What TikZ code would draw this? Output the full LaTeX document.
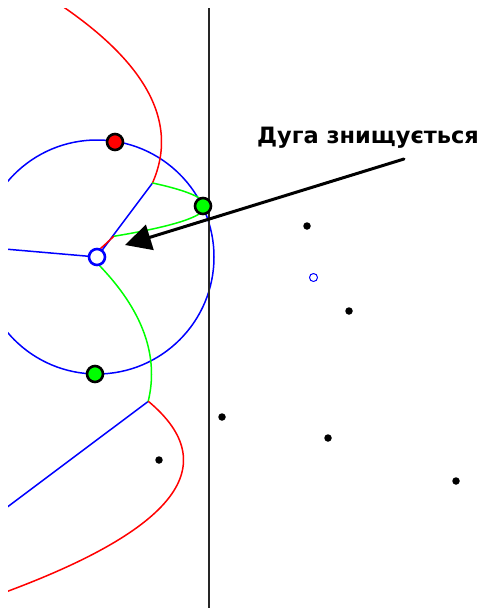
\documentclass[tikz,border=0pt]{standalone}
\usepackage{fontspec}
\newfontfamily\captionfont{DejaVu Sans}
\usetikzlibrary{arrows.meta}

\begin{document}
\begin{tikzpicture}[x=1pt, y=-1pt, line cap=round, line join=round,
    edgeline/.style={blue, line width=1.5pt},
    arcred/.style={red, line width=1.5pt},
    arcgreen/.style={green, line width=1.5pt},
    sweepline/.style={black!85, line width=2pt},
    bigsite/.style={circle, draw=black, line width=2.6pt, minimum size=16pt, inner sep=0pt},
    eventpoint/.style={circle, draw=blue, fill=white, line width=2.6pt, minimum size=16pt, inner sep=0pt},
    smallsite/.style={circle, fill=black, minimum size=7.5pt, inner sep=0pt},
    smallevent/.style={circle, draw=blue, line width=1pt, minimum size=8pt, inner sep=0pt},
    pointer/.style={black, line width=3pt, -{Triangle[length=26pt, width=26pt]}}]
    \useasboundingbox (0,0) rectangle (485,608);

    % Точки подій та вершини діаграми
    \coordinate (centre) at (97,257);
    \coordinate (topjoin) at (152.5,183);
    \coordinate (lowjoin) at (148.1,401.5);
    \coordinate (leftend) at (0,248.6);
    \coordinate (lowend) at (0,512.5);

    \begin{scope}
        \clip (8,8) rectangle (485,608);

        % Коло події (синє)
        \draw[edgeline] (centre) circle[radius=117];

        % Ребра Вороного
        \draw[edgeline] (topjoin) -- (centre);
        \draw[edgeline] (centre) -- (leftend);
        \draw[edgeline] (lowjoin) -- (lowend);

        % Берегова лінія: параболи з фокусами в сайтах, директриса x = 208
        \draw[arcred] plot[domain=0:183, samples=70, variable=\t] ({161.5-((\t-142)/10)^2/1.86}, \t);
        \draw[arcgreen] plot[domain=183:236.3, samples=50, variable=\t] ({205.5-(\t-206)^2/10}, \t);
        \draw[arcred] plot[domain=236.3:256.7, samples=20, variable=\t] ({161.5-((\t-142)/10)^2/1.86}, \t);
        \draw[arcgreen] plot[domain=256.7:401.5, samples=60, variable=\t] ({151.5-((\t-374)/10)^2/2.26}, \t);
        \draw[arcred] plot[domain=401.5:608, samples=70, variable=\t] ({183.5-((\t-460)/10)^2/0.98}, \t);

        % Вимітальна пряма
        \draw[sweepline] (208.5,8) -- (208.5,608);
    \end{scope}

    % Сайти на колі
    \node[bigsite, fill=red] (sitered) at (115,142) {};
    \node[bigsite, fill=green] (siteupper) at (203,206) {};
    \node[bigsite, fill=green] (sitelower) at (95,374) {};
    \node[eventpoint] (circleevent) at (centre) {};

    % Ще не оброблені сайти
    \node[smallsite] (p1) at (307,226) {};
    \node[smallsite] (p2) at (349,311) {};
    \node[smallsite] (p3) at (222,417) {};
    \node[smallsite] (p4) at (328,438) {};
    \node[smallsite] (p5) at (456,481) {};
    \node[smallsite] (p6) at (159,460) {};
    \node[smallevent] (q1) at (313.5,277.5) {};

    % Підпис зі стрілкою
    \node[font=\captionfont\bfseries\fontsize{22.5}{27}\selectfont, inner sep=0pt] (caption) at (368,138) {Дуга знищується};
    \coordinate (arrowstart) at (404,159);
    \coordinate (arrowtip) at (125,245);
    \draw[pointer] (arrowstart) -- (arrowtip);
\end{tikzpicture}
\end{document}
